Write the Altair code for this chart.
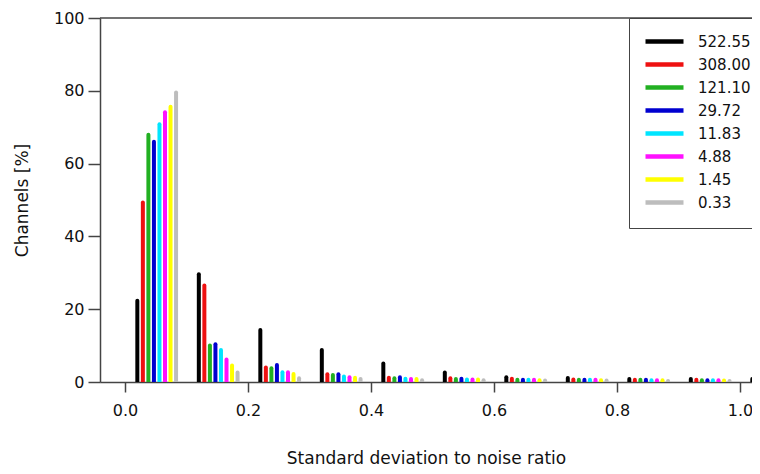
import altair as alt
import pandas as pd

# bin starts on the x axis (standard deviation to noise ratio)
bins = [0.0, 0.1, 0.2, 0.3, 0.4, 0.5, 0.6, 0.7, 0.8, 0.9, 1.0]
series = ["522.55", "308.00", "121.10", "29.72", "11.83", "4.88", "1.45", "0.33"]
colors = ["#000000", "#ee1111", "#22b022", "#0000d0", "#00e5ff", "#ff11ff", "#ffff00", "#bdbdbd"]

v_522 = [22.3, 29.6, 14.3, 8.8, 5.1, 2.6, 1.3, 1.1, 0.8, 0.8, 0.8]
v_308 = [49.3, 26.5, 4.0, 2.1, 1.2, 1.0, 0.9, 0.7, 0.6, 0.6, 0.6]
v_121 = [67.9, 10.0, 3.8, 1.9, 1.0, 0.8, 0.6, 0.6, 0.6, 0.5, 0.5]
v_29 = [66.0, 10.4, 4.7, 2.1, 1.3, 0.9, 0.6, 0.6, 0.6, 0.5, 0.5]
v_11 = [70.8, 8.8, 2.7, 1.5, 0.9, 0.7, 0.6, 0.6, 0.5, 0.5, 0.5]
v_4 = [74.1, 6.2, 2.7, 1.3, 0.8, 0.7, 0.6, 0.6, 0.5, 0.5, 0.5]
v_1 = [75.6, 4.5, 2.2, 1.2, 0.8, 0.7, 0.5, 0.5, 0.5, 0.4, 0.4]
v_0 = [79.5, 2.6, 1.0, 0.8, 0.5, 0.5, 0.4, 0.4, 0.3, 0.3, 0.3]
all_values = [v_522, v_308, v_121, v_29, v_11, v_4, v_1, v_0]

x_ticks = [0.0, 0.2, 0.4, 0.6, 0.8, 1.0]
y_ticks = [0, 20, 40, 60, 80, 100]

rows = []
for i, (name, vals) in enumerate(zip(series, all_values)):
    for b, v in zip(bins, vals):
        rows.append({"x": b + 0.02 + i * 0.009, "v": v, "series": name})
df = pd.DataFrame(rows)

FONT = "DejaVu Sans"
AX = "#444444"

bars = alt.Chart(df).mark_rule(strokeWidth=4, strokeCap="round", clip=True).encode(
    x=alt.X(
        "x:Q",
        scale=alt.Scale(domain=[-0.0407, 1.0195], nice=False, zero=False),
        axis=alt.Axis(
            values=x_ticks, format=".1f", title="Standard deviation to noise ratio",
            grid=False, tickSize=10, labelPadding=10, titlePadding=32,
            domainColor=AX, domainWidth=1.5, tickColor=AX, tickWidth=1.5,
            labelFontSize=16, titleFontSize=17, labelFont=FONT, titleFont=FONT,
            titleFontWeight="normal", labelColor="#111", titleColor="#111",
        ),
    ),
    y=alt.Y(
        "v:Q",
        scale=alt.Scale(domain=[0, 100], nice=False),
        axis=alt.Axis(
            values=y_ticks, title="Channels [%]", grid=False, tickSize=12,
            labelPadding=4, titlePadding=22,
            domainColor=AX, domainWidth=1.5, tickColor=AX, tickWidth=1.5,
            labelFontSize=16, titleFontSize=17, labelFont=FONT, titleFont=FONT,
            titleFontWeight="normal", labelColor="#111", titleColor="#111",
        ),
    ),
    y2=alt.datum(0),
    color=alt.Color(
        "series:N",
        scale=alt.Scale(domain=series, range=colors),
        sort=series,
        legend=alt.Legend(
            title=None, orient="none", legendX=529, legendY=0,
            strokeColor=AX, fillColor="white", padding=16,
            symbolType="M-1.4,0H6.2", symbolSize=100, symbolStrokeWidth=4.5,
            labelOffset=38, labelFontSize=15, labelFont=FONT, labelColor="#111",
            rowPadding=4,
        ),
    ),
)

top = alt.Chart(pd.DataFrame({"t": [100]})).mark_rule(color=AX, strokeWidth=1.5).encode(
    y=alt.Y("t:Q", scale=alt.Scale(domain=[0, 100], nice=False))
)

chart = alt.layer(top, bars).properties(
    width=652, height=364,
    autosize=alt.AutoSizeParams(type="none"),
    padding={"left": 92, "top": 10, "right": 0, "bottom": 84},
).configure_view(stroke=None)

chart.save("out.html", embed_options={"renderer": "svg", "actions": False})
